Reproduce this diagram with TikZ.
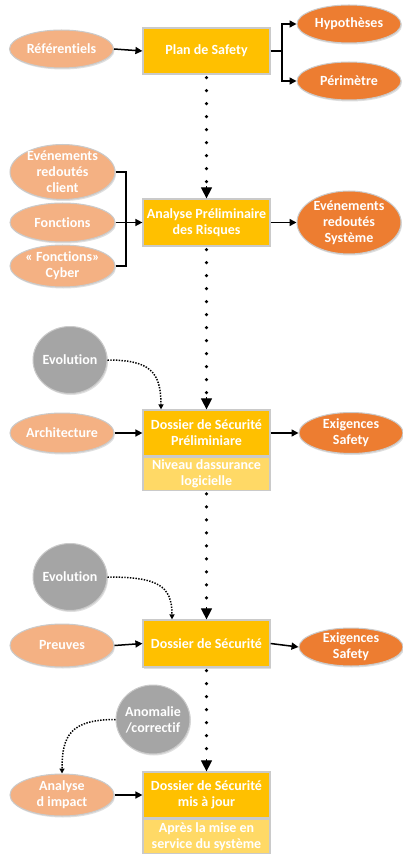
\documentclass[tikz,border=0pt]{standalone}
\usepackage{fontspec}
\setmainfont[Ligatures={NoCommon}]{Carlito}
\usetikzlibrary{arrows.meta,shapes.geometric,calc,shadows}
\definecolor{gold}{HTML}{FFC000}
\definecolor{lgold}{HTML}{FFD966}
\definecolor{lorange}{HTML}{F4B183}
\definecolor{dorange}{HTML}{ED7D31}
\definecolor{grey}{HTML}{A5A5A5}
\definecolor{edgec}{HTML}{CACACA}
\begin{document}
\begin{tikzpicture}[x=1pt,y=-1pt,
  every node/.style={font=\fontsize{14}{16}\selectfont\bfseries, text=white, align=center, inner sep=0pt},
  shd/.style={drop shadow={shadow xshift=1pt, shadow yshift=-1.5pt, opacity=0.25, fill=black!50}},
  box/.style={rectangle, fill=gold, draw=edgec, line width=1.2pt, minimum width=127pt, shd},
  subbox/.style={rectangle, fill=lgold, draw=edgec, line width=1.2pt, minimum width=127pt},
  inp/.style={ellipse, fill=lorange, draw=edgec, line width=1pt, minimum width=104pt, shd},
  outp/.style={ellipse, fill=dorange, draw=edgec, line width=1pt, minimum width=104pt, shd},
  evo/.style={ellipse, fill=grey, draw=edgec, line width=1pt, minimum width=74pt, minimum height=67pt, shd},
  arr/.style={-{Triangle[length=7pt,width=7pt]}, line width=1.5pt},
  plainln/.style={line width=1.5pt},
  dotline/.style={line width=3.6pt, line cap=round, dash pattern=on 0pt off 13pt, shorten <=3pt},
  bigtip/.style={-{Triangle[length=11pt,width=11pt]}, line width=1pt},
  dotarr/.style={-{Triangle[length=5pt,width=5pt]}, line width=1.5pt, dash pattern=on 1.4pt off 1.4pt},
]
\fill[white] (0,0) rectangle (403,858);
\useasboundingbox (0,0) rectangle (403,858);

% --- Plan de Safety
\node[box, minimum height=46pt] (plan) at (206.5,51) {Plan de Safety};
\node[inp, minimum height=38pt, label=center:{Référentiels}] (ref) at (61.5,49) {};
\node[outp, minimum height=38pt, label=center:{Hypothèses}] (hyp) at (349,24) {};
\node[outp, minimum height=38pt, label=center:{Périmètre}] (per) at (349,81) {};
\coordinate (b1) at (282,51);
\draw[arr] (ref.east) -- (plan.west);
\draw[plainln] (plan.east) -- (b1);
\draw[arr] (b1) |- (hyp.west);
\draw[arr] (b1) |- (per.west);

% --- APR
\node[box, minimum height=47pt] (apr) at (206.5,222.5) {Analyse Préliminaire\\des Risques};
\node[inp, minimum width=105pt, minimum height=55pt, label=center:{Evénements\\redoutés\\client}] (erc) at (62.5,172) {};
\node[inp, minimum width=105pt, minimum height=39pt, label=center:{Fonctions}] (fon) at (62.5,222.5) {};
\node[inp, minimum width=105pt, minimum height=42pt, label=center:{« Fonctions»\\Cyber}] (cyb) at (62.5,266) {};
\node[outp, minimum height=63pt, label=center:{Evénements\\redoutés\\Système}] (ers) at (349,222.5) {};
\coordinate (j1) at (126,222.5);
\draw[plainln] (erc.east) -| (j1);
\draw[plainln] (cyb.east) -| (j1);
\draw[arr] (fon.east) -- (apr.west);
\draw[arr] (apr.east) -- (ers.west);

% --- DSP
\node[box, minimum height=46pt] (dsp) at (206.5,433) {Dossier de Sécurité\\Préliminiare};
\node[subbox, minimum height=33pt, anchor=north] (dspsub) at (dsp.south) {Niveau dassurance\\logicielle};
\node[evo, label=center:{Evolution}] (evo1) at (70,360) {};
\node[inp, minimum height=40pt, label=center:{Architecture}] (arch) at (62,433) {};
\node[outp, minimum height=41pt, label=center:{Exigences\\Safety}] (ex1) at (351,433) {};
\draw[arr] (arch.east) -- (dsp.west);
\draw[arr] (dsp.east) -- (ex1.west);
\draw[dotarr] (evo1.east) .. controls +(42,0) and +(0,-38) .. ([xshift=-45.5pt]dsp.north);

% --- DS
\node[box, minimum height=47pt] (ds) at (206.5,643.5) {Dossier de Sécurité};
\node[evo, label=center:{Evolution}] (evo2) at (70,577) {};
\node[inp, minimum height=43pt, label=center:{Preuves}] (pre) at (62,645.5) {};
\node[outp, minimum height=38pt, label=center:{Exigences\\Safety}] (ex2) at (351,647) {};
\draw[arr] (pre.east) -- (ds.west);
\draw[arr] (ds.east) -- (ex2.west);
\draw[dotarr] (evo2.east) .. controls +(50,0) and +(0,-34) .. ([xshift=-34.5pt]ds.north);

% --- DSMJ
\node[box, minimum height=46pt] (dsm) at (206.5,795) {Dossier de Sécurité\\mis à jour};
\node[subbox, minimum height=34pt, anchor=north] (dsmsub) at (dsm.south) {Après la mise en\\service du système};
\node[evo, minimum height=69pt, label=center:{Anomalie\\/correctif}] (ano) at (153,719.5) {};
\node[inp, minimum height=42pt, label=center:{Analyse\\d impact}] (ai) at (62,795) {};
\draw[arr] (ai.east) -- (dsm.west);
\draw[dotarr] (ano.west) .. controls +(-45,0) and +(0,-38) .. (ai.north);

% --- vertical dotted flow
\draw[dotline] (plan.south) -- ($(apr.north)+(0,-11)$);
\draw[bigtip] ($(apr.north)+(0,-12)$) -- (apr.north);
\draw[dotline] (apr.south) -- ($(dsp.north)+(0,-11)$);
\draw[bigtip] ($(dsp.north)+(0,-12)$) -- (dsp.north);
\draw[dotline] (dspsub.south) -- ($(ds.north)+(0,-11)$);
\draw[bigtip] ($(ds.north)+(0,-12)$) -- (ds.north);
\draw[dotline] (ds.south) -- ($(dsm.north)+(0,-11)$);
\draw[bigtip] ($(dsm.north)+(0,-12)$) -- (dsm.north);
\end{tikzpicture}
\end{document}
